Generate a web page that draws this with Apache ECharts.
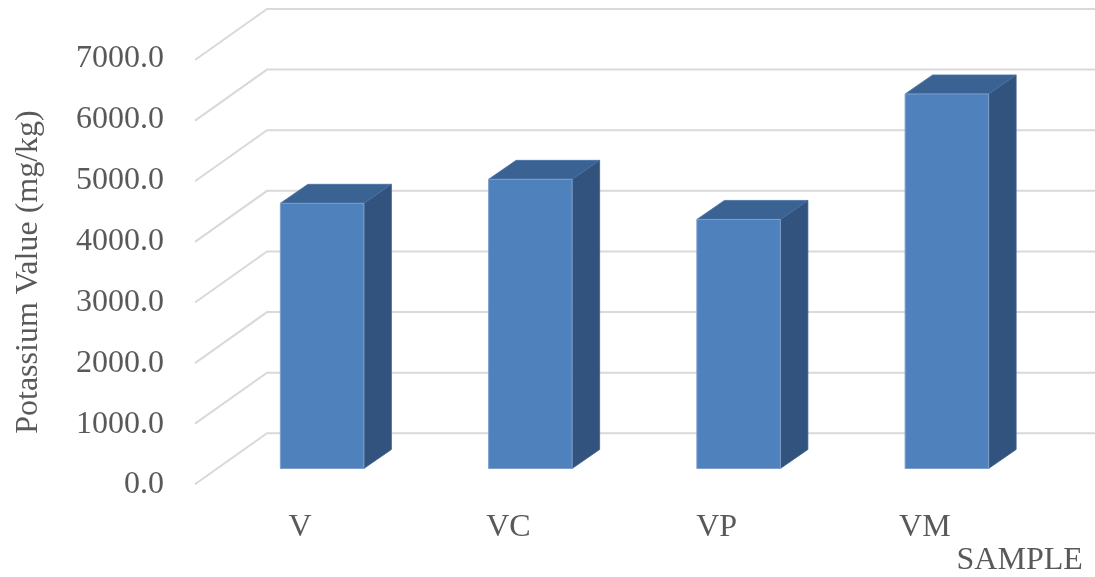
<!DOCTYPE html>
<html>
<head>
<meta charset="utf-8">
<script src="https://cdn.jsdelivr.net/npm/echarts@6/dist/echarts.min.js"></script>
<style>
html,body{margin:0;padding:0;background:#fff;}
#chart{width:1095px;height:577px;}
</style>
</head>
<body>
<div id="chart"></div>
<script>
// ---- data ----
const categories = ['V', 'VC', 'VP', 'VM'];
const potassium = [4365, 4760, 4100, 6165];
const yTicks = [0, 1000, 2000, 3000, 4000, 5000, 6000, 7000];
const yTitle = 'Potassium Value (mg/kg)';
const xTitle = 'SAMPLE';

// ---- style ----
const FONT = '"Liberation Serif", "Times New Roman", serif';
const TXT = '#595959';
const DX = 27.5, DY = 19;          // bar depth offset
const WX = 72, WY = 51;            // side-wall diagonal offset

const chart = echarts.init(document.getElementById('chart'), null, {renderer: 'canvas'});

const option = {
  animation: false,
  backgroundColor: '#ffffff',
  grid: [
    {left: 267, right: 0, top: 9, bottom: 143.7},          // back wall
    {left: 218, width: 833, top: 43.25, bottom: 108.5},     // bar front plane
    {left: 195, width: 10, top: 59, bottom: 92},            // floor front (value labels)
    {left: 196, width: 833, top: 100, bottom: 77}           // category labels
  ],
  xAxis: [
    {gridIndex: 0, type: 'value', min: 0, max: 1, show: false},
    {gridIndex: 1, type: 'category', data: categories, show: false},
    {gridIndex: 2, type: 'value', min: 0, max: 1, show: false},
    {gridIndex: 3, type: 'category', data: categories,
      axisLine: {show: false}, axisTick: {show: false},
      axisLabel: {color: TXT, fontFamily: FONT, fontSize: 32, margin: 31, verticalAlign: 'middle'},
      name: xTitle, nameLocation: 'end', nameGap: 51,
      nameTextStyle: {color: TXT, fontFamily: FONT, fontSize: 32, align: 'right', verticalAlign: 'top',
        lineHeight: 32, padding: [48, 0, 0, 0]}
    }
  ],
  yAxis: [
    {gridIndex: 0, type: 'value', min: 0, max: 7000, interval: 1000, show: false},
    {gridIndex: 1, type: 'value', min: 0, max: 7000, interval: 1000, show: false},
    {gridIndex: 2, type: 'value', min: 0, max: 7000, interval: 1000,
      axisLine: {show: false}, axisTick: {show: false}, splitLine: {show: false},
      axisLabel: {color: TXT, fontFamily: FONT, fontSize: 32, margin: 31,
        formatter: v => v.toFixed(1)},
      name: yTitle, nameLocation: 'middle', nameRotate: 90, nameGap: 150,
      nameTextStyle: {color: TXT, fontFamily: FONT, fontSize: 32}
    },
    {gridIndex: 3, type: 'value', show: false}
  ],
  series: [
    {
      type: 'custom', name: 'walls', xAxisIndex: 0, yAxisIndex: 0, silent: true,
      data: yTicks.map(v => [0, v]),
      renderItem: function (params, api) {
        const v = api.value(1);
        const a = api.coord([0, v]);
        const b = api.coord([1, v]);
        return {
          type: 'polyline',
          shape: {points: [[a[0] - WX, a[1] + WY], a, b]},
          style: {stroke: '#d9d9d9', lineWidth: 2, fill: null}
        };
      }
    },
    {
      type: 'custom', name: 'Potassium', xAxisIndex: 1, yAxisIndex: 1,
      data: potassium.map((v, i) => [i, v]),
      renderItem: function (params, api) {
        const i = api.value(0), v = api.value(1);
        const top = api.coord([i, v]);
        const base = api.coord([i, 0]);
        const band = api.size([1, 0])[0];
        const w = band * 0.401;
        const x0 = top[0] - w / 2, x1 = top[0] + w / 2;
        const yt = top[1], yb = base[1];
        return {
          type: 'group',
          children: [
            {type: 'polygon', shape: {points: [[x1, yt], [x1 + DX, yt - DY], [x1 + DX, yb - DY], [x1, yb]]},
              style: {fill: '#32537d', stroke: '#3b5f8c', lineWidth: 0.8}},
            {type: 'polygon', shape: {points: [[x0, yt], [x0 + DX, yt - DY], [x1 + DX, yt - DY], [x1, yt]]},
              style: {fill: '#3a6394', stroke: '#4670a3', lineWidth: 0.8}},
            {type: 'rect', shape: {x: x0, y: yt, width: w, height: yb - yt},
              style: {fill: '#4f81bd', stroke: '#7d9fd0', lineWidth: 1}}
          ]
        };
      }
    }
  ]
};
chart.setOption(option);
</script>
</body>
</html>
